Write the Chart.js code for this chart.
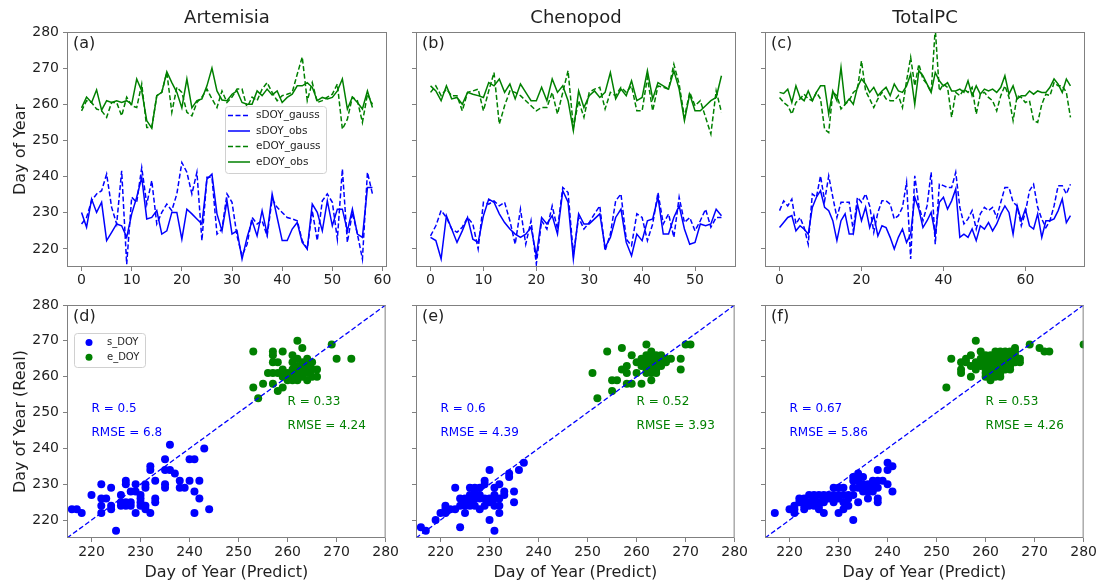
<!DOCTYPE html>
<html>
<head>
<meta charset="utf-8">
<script src="https://cdn.jsdelivr.net/npm/chart.js@4.4.1/dist/chart.umd.min.js"></script>
<style>
  html, body { margin: 0; padding: 0; background: #fff; }
  #fig { position: relative; width: 1101px; height: 583px; overflow: hidden; background: #fff; }
  .panel { position: absolute; }
  .panel canvas { display: block; }
</style>
</head>
<body>
<div id="fig"></div>
<script>
// ---------------------------------------------------------------------------
// data: DOY series per year index (top row) and predicted vs real (bottom row)
// ---------------------------------------------------------------------------
const artSGauss = [226.9,228.7,233.3,235.2,236.1,240.7,231.5,226.9,241.6,215.8,234.3,232.9,242.5,232.4,238.9,226.9,230.1,232.4,230.6,235.2,243.9,241.2,235.2,241.2,222.3,239.8,239.8,224.1,225.5,235.2,232.9,223.6,218.1,221.3,228.7,226.9,227.8,223.6,233.8,231.5,230.1,228.7,228.3,227.8,222.3,220,230.6,222.3,233.3,235.2,232.9,222.7,242.1,221.8,230.1,224.1,217.2,241.2,235.2];
const artSObs = [230.1,226,233.8,230.1,232.9,222.3,224.6,226.9,226.4,223.2,229.7,234.3,239.8,228.3,228.7,230.6,224.1,225,230.1,230.1,222.7,231,229.7,228.3,226.9,239.3,240.7,229.7,225,233.3,224.1,225,217.2,223.2,227.8,223.6,230.6,224.1,235.2,228.7,222.3,222.3,225.5,227.3,221.8,220,232.4,230.1,225,233.3,226.4,231,231,225,231,224.1,223.2,237,237];
const artEGauss = [258.2,261,260.5,258.7,258.2,256.4,260.5,260.5,256.8,262,259.6,259.1,265.6,253.6,253.6,262.4,263.3,268.8,257.8,264.7,263.3,257.8,256.8,260.5,262,264.2,261.5,259.1,263.7,260.5,262,264.2,264.2,259.1,262,261,264.2,266,263.3,261,262.4,262.8,263.3,268.3,273.1,261,266,260.5,261,262,262.8,265.6,253.1,255.9,262,261,255,262.8,260];
const artEObs = [259,262,260.5,264,258.4,261,260.5,261,260.5,261,260,267,263.7,255.5,253.4,262.4,263.3,269,266,263.3,259,267,259,261,261.5,265.1,270,263.7,261.2,261,262.8,263.7,260.5,260,260,263.7,262.4,264.2,262.6,263.7,260.5,261.9,262.8,265.1,265.1,266,264.7,261,261.9,261.5,261.9,263.7,267,258.7,262,260.5,258.7,263.7,259.1];

const chenSGauss = [223.6,226.4,230.6,228.7,225.5,224.6,226,228.7,226.9,220,232.9,232.4,233.3,231.9,232.9,227.8,221.3,231,221.3,227.8,215.8,227.8,225.5,231.9,225.5,237,235.6,218.6,228.7,225.5,227.3,229.7,231.9,219.5,224.1,233.3,235.2,222.7,220.9,229.7,228.7,222.3,226.9,235.6,226.9,229.7,223.2,234.3,227.3,228.7,225,227.8,231,226,228.7,228.7];
const chenSObs = [223.2,222.3,217.2,229.2,225.5,221.8,225,228.7,222.7,221.8,229.2,233.8,232.9,229.7,227.3,225.5,224.1,223.2,224.1,226,218.1,228.7,226.9,229.2,224.1,236.1,232.9,217.2,229.7,226.9,226.9,228.3,229.7,220.4,223.2,228.7,231,221.8,218.1,224.1,222.3,227.8,228.3,234.3,224.1,224.1,228.7,231.9,225.5,221.3,221.8,226.9,226.4,226.9,231,229.2];
const chenEGauss = [263.3,265.1,262.4,264.2,262.4,262.4,258.2,263.3,263.7,264.2,258.2,263.7,268.8,254.5,259.6,263.7,263.3,262.4,261,259.6,258.2,259.1,259.1,263.3,257.3,263.3,269.3,253.6,261,256.4,263.3,264.2,264.7,258.7,263.3,262.4,264.7,263.3,265.1,258.2,258.2,267.4,258.2,265.1,264.7,264.2,271.1,265.6,256.4,263.3,259.6,261,256.4,251.8,263.7,257.8];
const chenEObs = [265.1,263.7,261,265.1,261.5,261.9,260,263.3,262.8,262.4,261.9,266,265.1,267,263.3,265.6,261.5,265.6,263.3,261,261,264.7,261,267,263.3,265.1,261,252.7,263.7,259.1,262.4,263.7,261.9,263.3,268.8,261.5,264.2,262.4,266.5,261,261.9,269.3,261.5,266,265.1,264.2,269.3,264.2,255.5,262.8,258.2,258.2,259.6,261,261.9,267.9];

const totSGauss = [230.6,233.3,231.9,233.8,226.9,228.7,225.9,221.3,235.2,234.3,240.2,233.3,240.2,234.3,228.7,232.9,232.9,232.9,225,234.3,232.9,235.2,231.9,224.6,230.1,233.3,233.3,232.4,228.3,229.2,231.5,238.4,217.2,240.2,231.9,227.8,231.9,241.2,221.3,237.9,237.5,237,237,241.2,231.5,226.9,228.3,230.6,225.5,229.7,231.5,230.6,231.5,228.7,232.9,237,237,232.9,231.9,226.4,230.1,236.1,237.9,231.5,228.3,225.9,227.8,231.9,237.5,237.5,235.2,237.9];
const totSObs = [225.9,227.3,228.7,229.2,225,226.4,225.5,224.1,231.5,234.3,236.1,231.5,230.6,227.8,222.3,227.8,229.7,224.1,224.1,232.4,227.8,231.5,225.9,229.2,223.6,226.4,225.9,223.2,220,223.2,225.5,221.8,224.1,234.3,231,225.9,227.8,230.1,224.1,232.9,234.3,231,233.3,236.6,223.2,224.1,223.2,225.5,222.3,226.4,225.5,227.3,225,226.9,229.7,231.9,230.1,224.1,231.9,227.8,231,226.4,225.5,229.7,223.2,227.8,227.8,228.3,230.6,233.8,227.3,229.2];
const totEGauss = [261.9,260.5,259.6,257.3,260.5,261.5,262.8,261.5,261,263.3,261.5,253.1,252.2,263.3,262.4,258.7,260,261,263.3,264.2,272,263.7,261.5,259.1,261.5,263.3,261.5,261,261,262.4,259.1,266.5,273,265.1,271.1,267,265.6,263.3,281,263.7,265.6,264.7,256.4,263.3,262.4,264.2,263.3,264.7,257.3,262.8,263.3,261.9,261,258.2,262.4,265.1,261.9,255.5,262.4,261.9,260.5,261,255.5,255,260,262.8,262.4,266,265.1,265.1,263.3,256.4];
const totEObs = [263.3,263,264.2,260.5,265.1,261.9,261,263.7,261,263.3,265.1,265.1,257.3,263.7,261,270.2,260,261.5,260,264.7,267,265.6,263.3,264.7,262.4,263.7,264.7,262.4,265.6,263.7,263.3,265.1,268.4,260,269.3,267.9,265.6,263.3,268.8,266.5,265.1,266,263.7,263.7,264.2,263.3,266.5,262.4,265.1,262.8,264.2,263.7,264.2,263.3,264.7,267.9,262.8,265.1,261.5,262.4,262.4,263.7,262.8,263.7,263.3,263.3,264.7,267,265.6,263.3,267,265.1];

// scatter: predicted (x) vs real (y)
const artSPred = [216,217,218,220,222,222,222,222,223,224,224,224,225,226,226,226,227,227,227,227,228,228,228,229,229,229,230,230,230,230,231,231,231,231,232,232,232,233,233,233,235,235,235,235,236,236,237,238,238,239,240,240,241,241,241,242,242,243,244];
const artSReal = [223,223,222,227,230,226,224,222,226,229,224,223,217,227,225,224,231,230,225,224,228,225,224,230,228,222,227,226,225,224,230,229,224,223,235,234,222,231,226,225,237,234,230,229,241,234,233,231,229,229,237,231,237,228,222,231,226,240,223];
const artEPred = [253,253,254,255,256,257,257,257,257,257,258,258,258,259,259,259,259,260,260,260,261,261,261,261,261,261,262,262,262,262,262,262,262,263,263,263,263,263,263,264,264,264,264,264,265,265,265,266,266,269,270,273];
const artEReal = [267,257,254,258,261,267,266,264,261,258,264,261,256,267,262,260,257,261,260,259,266,264,262,261,260,259,270,265,263,262,261,260,259,268,264,263,262,261,260,265,263,262,261,259,264,262,260,262,260,269,265,265];

const chenSPred = [216,217,219,220,221,221,221,222,223,223,224,224,224,225,225,225,225,226,226,226,226,226,227,227,227,227,227,228,228,228,228,229,229,229,229,230,230,230,230,231,231,231,231,231,232,232,232,232,233,233,234,234,235,235,236,237];
const chenSReal = [218,217,220,222,222,223,224,223,229,223,218,224,226,225,222,224,226,229,227,225,224,226,227,226,228,224,229,229,226,223,227,231,230,224,226,234,220,225,226,229,226,224,217,227,230,224,222,226,228,227,233,232,228,225,234,236];
const chenEPred = [251,252,254,255,255,256,257,257,258,258,258,259,259,260,260,261,261,261,261,262,262,262,262,262,262,262,263,263,263,263,263,263,263,264,264,264,264,264,264,265,265,265,265,266,266,267,269,269,270,271];
const chenEReal = [261,254,267,259,256,259,268,262,263,261,258,266,258,261,264,265,263,258,264,269,265,262,261,264,263,266,267,265,263,259,264,262,261,264,262,261,265,263,266,266,264,265,263,265,264,265,265,262,269,269];

const totSPred = [217,220,221,221,221,222,222,223,223,223,224,224,224,225,225,225,225,226,226,226,226,227,227,227,227,228,228,229,229,229,229,230,230,230,230,231,231,231,231,232,232,232,233,233,233,233,233,234,234,234,234,235,235,235,236,236,236,236,237,237,237,238,238,238,238,238,239,240,240,240,241,241];
const totSReal = [222,223,223,224,222,226,225,226,223,224,227,224,225,227,225,224,226,227,224,223,225,227,225,222,226,227,226,229,227,225,226,229,226,222,227,229,227,223,225,227,224,226,232,231,227,220,229,231,229,225,233,232,230,228,229,228,230,226,231,230,228,234,231,229,226,225,231,236,234,230,235,228];
const totEPred = [252,253,255,255,255,256,256,257,257,257,258,258,258,259,259,259,259,260,260,260,260,260,260,260,261,261,261,261,261,261,261,261,262,262,262,262,262,262,262,262,263,263,263,263,263,263,263,263,264,264,264,264,264,264,265,265,265,265,265,265,266,266,266,266,266,267,267,269,271,272,273,280];
const totEReal = [257,265,264,262,261,265,264,266,260,263,270,262,264,267,264,263,265,265,263,260,264,262,266,261,265,264,262,260,263,261,266,259,266,264,263,260,265,262,267,261,267,265,263,262,264,266,261,260,266,264,265,263,262,267,266,265,263,264,262,267,268,267,265,266,264,265,264,269,268,267,267,269];

const doyTicks = [220, 230, 240, 250, 260, 270, 280];
const artTicks = [0, 10, 20, 30, 40, 50, 60];
const chenTicks = [0, 10, 20, 30, 40, 50];
const totTicks = [0, 20, 40, 60];
const DOY_MIN = 215, DOY_MAX = 280;

// ---------------------------------------------------------------------------
// look
// ---------------------------------------------------------------------------
const BLUE = '#0000ff', GREEN = '#008000', SPINE = '#808080', INK = '#1f1f1f';
const FONT = "'DejaVu Sans', 'Liberation Sans', sans-serif";
const COL_LEFT = [67, 416, 765];
const AREA_W = 320;
const ROWS = [
  { top: 0, h: 295, padTop: 32, area: 235 },
  { top: 290, h: 293, padTop: 15, area: 233 },
];
Chart.defaults.font.family = FONT;
Chart.defaults.color = INK;

const fig = document.getElementById('fig');

// рамка, заголовок, буква панели, подписи R/RMSE, легенда
const decoPlugin = {
  id: 'deco',
  afterDraw(chart, args, o) {
    const { ctx, chartArea: a } = chart;
    const sx = chart.scales.x, sy = chart.scales.y;
    ctx.save();
    ctx.setLineDash([]);
    ctx.strokeStyle = SPINE; ctx.lineWidth = 1;
    ctx.strokeRect(a.left + 0.5, a.top + 0.5, a.width - 1, a.height - 1);

    ctx.fillStyle = INK;
    if (o.title) {
      ctx.font = `18px ${FONT}`; ctx.textAlign = 'center'; ctx.textBaseline = 'middle';
      ctx.fillText(o.title, (a.left + a.right) / 2, a.top - 14);
    }
    if (o.letter) {
      ctx.font = `16px ${FONT}`; ctx.textAlign = 'left'; ctx.textBaseline = 'middle';
      ctx.fillText(o.letter, a.left + 6, a.top + 12);
    }
    for (const n of (o.notes || [])) {
      ctx.font = `12px ${FONT}`; ctx.textAlign = 'left'; ctx.textBaseline = 'middle';
      ctx.fillStyle = n.color;
      ctx.fillText(n.text, sx.getPixelForValue(n.x), sy.getPixelForValue(n.y));
    }
    const L = o.legend;
    if (L) {
      const x0 = Math.round(a.left + L.fx * a.width), y0 = Math.round(a.top + L.fy * a.height);
      ctx.beginPath();
      ctx.roundRect(x0 + 0.5, y0 + 0.5, L.w, L.h, 3);
      ctx.fillStyle = 'rgba(255,255,255,0.85)'; ctx.fill();
      ctx.strokeStyle = '#d0d0d0'; ctx.lineWidth = 1; ctx.stroke();
      const items = chart.data.datasets.filter(ds => !ds.noLegend);
      items.forEach((ds, i) => {
        const cy = y0 + L.first + i * L.step;
        if (L.kind === 'line') {
          ctx.strokeStyle = ds.borderColor; ctx.lineWidth = 1.5;
          ctx.setLineDash(ds.borderDash || []);
          ctx.beginPath(); ctx.moveTo(x0 + 3, cy); ctx.lineTo(x0 + 25, cy); ctx.stroke();
          ctx.setLineDash([]);
        } else {
          ctx.fillStyle = ds.backgroundColor;
          ctx.beginPath(); ctx.arc(x0 + L.markX, cy, 3.5, 0, Math.PI * 2); ctx.fill();
        }
        ctx.fillStyle = INK; ctx.font = `${L.font}px ${FONT}`;
        ctx.textAlign = 'left'; ctx.textBaseline = 'middle';
        ctx.fillText(ds.label, x0 + L.textX, cy);
      });
    }
    ctx.restore();
  },
};

function axis(o) {
  return {
    type: 'linear', min: o.min, max: o.max,
    afterBuildTicks: s => { s.ticks = o.ticks.map(v => ({ value: v })); },
    afterFit: s => { if (s.isHorizontal()) s.height = o.size; else s.width = o.size; },
    grid: { display: true, drawOnChartArea: false, drawTicks: true, tickLength: 4, tickColor: SPINE, tickWidth: 1 },
    border: { display: false },
    ticks: { display: o.labels, color: INK, padding: o.pad, autoSkip: false, maxRotation: 0, font: { family: FONT, size: 14 } },
    title: o.title
      ? { display: true, text: o.title, color: INK, font: { family: FONT, size: 16 }, padding: o.titlePad }
      : { display: false },
  };
}

function addPanel(col, row, datasets, scales, deco, type) {
  const R = ROWS[row];
  const yw = col === 0 ? 67 : 50;
  const w = yw + AREA_W + 14;
  const div = document.createElement('div');
  div.className = 'panel';
  div.style.left = (COL_LEFT[col] - yw) + 'px';
  div.style.top = R.top + 'px';
  const cvs = document.createElement('canvas');
  cvs.width = w; cvs.height = R.h;
  cvs.style.width = w + 'px'; cvs.style.height = R.h + 'px';
  div.appendChild(cvs);
  fig.appendChild(div);

  scales.y.size = yw;
  scales.x.size = R.h - R.padTop - R.area;
  return new Chart(cvs, {
    type,
    data: { datasets },
    options: {
      responsive: false, animation: false, events: [],
      layout: { padding: { top: R.padTop, right: 14, left: 0, bottom: 0 } },
      plugins: { legend: { display: false }, tooltip: { enabled: false }, deco },
      scales: { x: axis(scales.x), y: axis(scales.y) },
    },
    plugins: [decoPlugin],
  });
}

// ---- top row: time series ----
function line(vals, color, dashed, label) {
  return {
    label, data: vals.map((v, i) => ({ x: i, y: v })),
    borderColor: color, backgroundColor: color, borderWidth: 1.5,
    borderDash: dashed ? [5, 2.5] : [], pointRadius: 0, tension: 0, fill: false,
    order: dashed ? 2 : 1,
  };
}

function seriesPanel(col, title, letter, sG, sO, eG, eO, xTicks, legend) {
  const n = sG.length - 1;
  const m = n * 0.05;   // matplotlib default x-margin
  addPanel(col, 0, [
    line(sG, BLUE, true, 'sDOY_gauss'),
    line(sO, BLUE, false, 'sDOY_obs'),
    line(eG, GREEN, true, 'eDOY_gauss'),
    line(eO, GREEN, false, 'eDOY_obs'),
  ], {
    x: { min: -m, max: n + m, ticks: xTicks, labels: true, pad: 1 },
    y: { min: DOY_MIN, max: DOY_MAX, ticks: doyTicks, labels: col === 0, pad: 4,
         title: col === 0 ? 'Day of Year' : null, titlePad: { top: 11 } },
  }, { title, letter, legend }, 'line');
}

seriesPanel(0, 'Artemisia', '(a)', artSGauss, artSObs, artEGauss, artEObs, artTicks,
  { kind: 'line', fx: 0.494, fy: 0.315, w: 101, h: 67, first: 9.5, step: 15.5, textX: 31, font: 10.5 });
seriesPanel(1, 'Chenopod', '(b)', chenSGauss, chenSObs, chenEGauss, chenEObs, chenTicks, null);
seriesPanel(2, 'TotalPC', '(c)', totSGauss, totSObs, totEGauss, totEObs, totTicks, null);

// ---- bottom row: predicted vs real ----
function dots(xs, ys, color, label) {
  return {
    type: 'scatter', label, data: xs.map((x, i) => ({ x, y: ys[i] })),
    backgroundColor: color, borderWidth: 0, pointRadius: 4, order: 1,
  };
}

function scatterPanel(col, letter, sX, sY, eX, eY, stats, legend) {
  const diag = {
    type: 'line', noLegend: true,
    data: [DOY_MIN, DOY_MAX].map(v => ({ x: v, y: v })),
    borderColor: BLUE, borderWidth: 1.3, borderDash: [5, 2.5], pointRadius: 0, order: 0,
  };
  addPanel(col, 1, [dots(sX, sY, BLUE, 's_DOY'), dots(eX, eY, GREEN, 'e_DOY'), diag], {
    x: { min: DOY_MIN, max: DOY_MAX, ticks: doyTicks, labels: true, pad: 2,
         title: 'Day of Year (Predict)', titlePad: { bottom: 1 } },
    y: { min: DOY_MIN, max: DOY_MAX, ticks: doyTicks, labels: col === 0, pad: 4,
         title: col === 0 ? 'Day of Year (Real)' : null, titlePad: { top: 11 } },
  }, {
    letter, legend,
    notes: [
      { x: 220, y: 251, text: `R = ${stats[0]}`, color: BLUE },
      { x: 220, y: 244.4, text: `RMSE = ${stats[1]}`, color: BLUE },
      { x: 260, y: 253, text: `R = ${stats[2]}`, color: GREEN },
      { x: 260, y: 246.2, text: `RMSE = ${stats[3]}`, color: GREEN },
    ],
  }, 'scatter');
}

scatterPanel(0, '(d)', artSPred, artSReal, artEPred, artEReal, ['0.5', '6.8', '0.33', '4.24'],
  { kind: 'dot', fx: 0.022, fy: 0.12, w: 71, h: 34, first: 9.5, step: 14.7, markX: 15, textX: 33, font: 10 });
scatterPanel(1, '(e)', chenSPred, chenSReal, chenEPred, chenEReal, ['0.6', '4.39', '0.52', '3.93'], null);
scatterPanel(2, '(f)', totSPred, totSReal, totEPred, totEReal, ['0.67', '5.86', '0.53', '4.26'], null);
</script>
</body>
</html>
